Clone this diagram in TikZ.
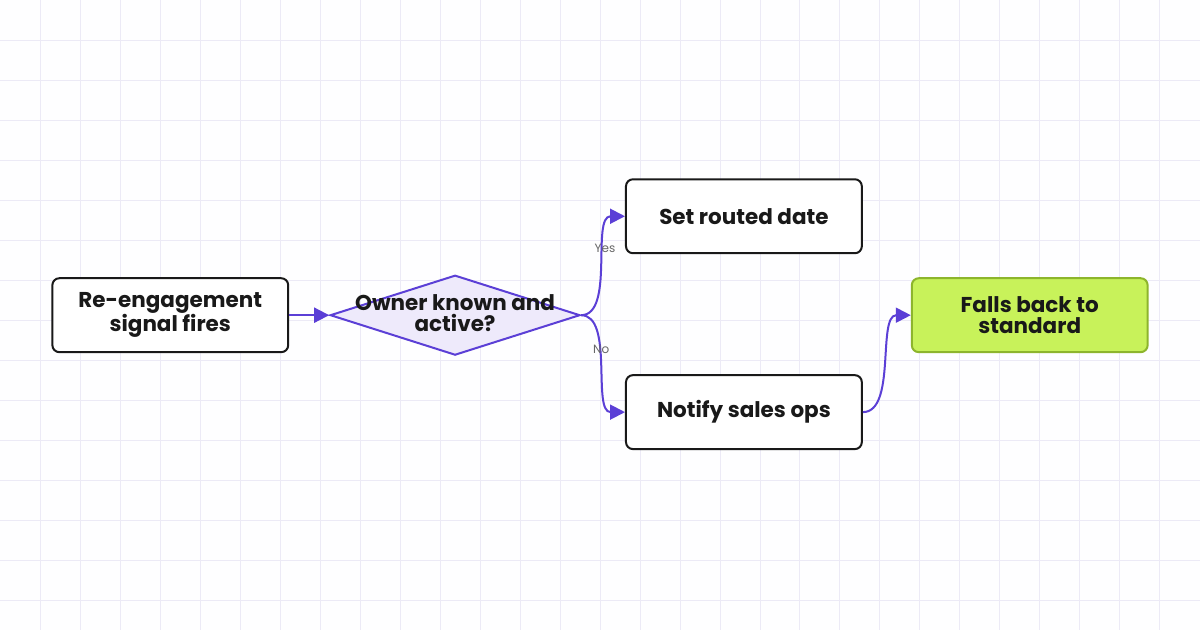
\documentclass[tikz,border=0pt]{standalone}
\usepackage{fontspec}
\setmainfont{Poppins}
\usetikzlibrary{shapes.geometric}
\usetikzlibrary{arrows.meta}
\definecolor{flow}{HTML}{5B3FD6}
\definecolor{gridc}{HTML}{ECEAF6}
\definecolor{decfill}{HTML}{EEEAFB}
\definecolor{okfill}{HTML}{C8F25A}
\definecolor{okdraw}{HTML}{8DB52C}
\begin{document}
\begin{tikzpicture}[x=1pt,y=-1pt,
	every node/.style={font=\bfseries\fontsize{21.5}{21}\selectfont,align=center,text=black!90},
	flowbox/.style={rectangle, rounded corners=7pt, minimum width=236pt, minimum height=74pt, fill=white, draw=black!90, line width=2pt},
	decision/.style={diamond, aspect=3.1, minimum width=250pt, minimum height=80pt, inner sep=0pt, fill=decfill, draw=flow, line width=2pt},
	every edge/.style={draw, line width=2pt, color=flow, -{Triangle[length=15pt,width=15pt]}},
	lbl/.style={font=\fontsize{12}{12}\selectfont, text=black!60}
]%
\fill[white!97!gridc] (0,0) rectangle (1200,630);
\foreach \x in {40,80,...,1160} \draw[gridc, line width=0.8pt] (\x,0) -- (\x,630);
\foreach \y in {40,80,...,600} \draw[gridc, line width=0.8pt] (0,\y) -- (1200,\y);
\useasboundingbox (0,0) rectangle (1200,630);
\node (signal) [flowbox] at (170,315) {Re-engagement\\signal fires};
\node (owner) [decision] at (455,315) {};
\node (ownertxt) at (455,313) {Owner known and\\active?};
\node (routed) [flowbox] at (744,216) {Set routed date};
\node (notify) [flowbox] at (744,412) {Notify sales ops};
\node (fallback) [flowbox, fill=okfill, draw=okdraw] at (1030,315) {Falls back to\\standard};
\path
(signal) edge (owner)
(owner.east) edge[out=0,in=180,looseness=0.8] node[lbl, pos=0.62] {Yes} (routed.west)
(owner.east) edge[out=0,in=180,looseness=0.8] node[lbl, pos=0.4] {No} (notify.west)
(notify.east) edge[out=0,in=180,looseness=0.8] (fallback.west);
\end{tikzpicture}
\end{document}
